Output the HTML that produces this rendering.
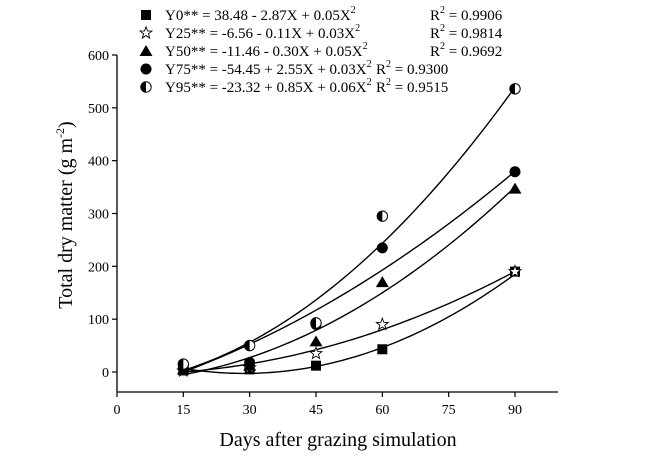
<!DOCTYPE html>
<html><head><meta charset="utf-8"><style>
html,body{margin:0;padding:0;background:#fff;}
svg{display:block;font-family:"Liberation Serif",serif;}
</style></head><body>
<svg id="chart" width="650" height="471" viewBox="0 0 650 471">
<g id="legend"></g>
<g id="axes"></g>
<g id="curves"></g>
<g id="points"></g>
<text x="338" y="446" text-anchor="middle" font-size="20">Days after grazing simulation</text>
<text transform="translate(72,215) rotate(-90)" text-anchor="middle" font-size="20">Total dry matter (g m<tspan font-size="12" dy="-8">-2</tspan><tspan dy="8">)</tspan></text>
</svg>
<script>
const days = [15, 30, 45, 60, 90];
const y0 = [3, 5, 12, 43, 190];
const y25 = [2, 8, 35, 90, 190];
const y50 = [5, 12, 58, 170, 347];
const y75 = [8, 18, 90, 235, 379];
const y95 = [15, 50, 93, 295, 536];
const coefA = [38.48, -4.0, -18.0, -41.0, -23.32];
const coefB = [-2.87, -0.11, 0.22, 2.345, 0.85];
const coefC = [0.05, 0.0252, 0.043, 0.0259, 0.06];
const legendEq = ["Y0**  =  38.48 - 2.87X + 0.05X", "Y25** =   -6.56 - 0.11X + 0.03X", "Y50** = -11.46 - 0.30X + 0.05X", "Y75** = -54.45 + 2.55X + 0.03X", "Y95** = -23.32 + 0.85X + 0.06X"];
const legendR2 = ["0.9906", "0.9814", "0.9692", "0.9300", "0.9515"];
const xTicks = [0, 15, 30, 45, 60, 75, 90];
const yTicks = [0, 100, 200, 300, 400, 500, 600];

const NS = "http://www.w3.org/2000/svg";
const X = v => 117 + v * (398 / 90);
const Y = v => 372 - v * (317 / 600);
function mk(tag, attrs, parent) {
  const e = document.createElementNS(NS, tag);
  for (const k in attrs) e.setAttribute(k, attrs[k]);
  parent.appendChild(e);
  return e;
}
const axes = document.getElementById('axes');
let l = mk('line', {x1:117, y1:Y(600), x2:117, y2:392, stroke:'#000', 'stroke-width':1.3}, axes);


l = mk('line', {x1:117, y1:392, x2:558, y2:392, stroke:'#000', 'stroke-width':1.3}, axes);


yTicks.forEach(t => {
  mk('line', {x1:112, y1:Y(t), x2:117, y2:Y(t), stroke:'#000', 'stroke-width':1.2}, axes);
  const tx = mk('text', {x:109, y:Y(t)+5, 'text-anchor':'end', 'font-size':14}, axes);
  tx.textContent = t;
  
  
});
xTicks.forEach(t => {
  mk('line', {x1:X(t), y1:392, x2:X(t), y2:397, stroke:'#000', 'stroke-width':1.2}, axes);
  const tx = mk('text', {x:X(t), y:414, 'text-anchor':'middle', 'font-size':14}, axes);
  tx.textContent = t;
  
  
});
const curves = document.getElementById('curves');
for (let i = 0; i < 5; i++) {
  let d = '';
  for (let x = 15; x <= 90.001; x += 1) {
    const v = coefA[i] + coefB[i] * x + coefC[i] * x * x;
    d += (d ? 'L' : 'M') + X(x).toFixed(2) + ' ' + Y(v).toFixed(2);
  }
  const p = mk('path', {d:d, fill:'none', stroke:'#000', 'stroke-width':1.4}, curves);
  
  
}
function marker(type, cx, cy, parent) {
  let e;
  if (type === 0) e = mk('rect', {x:cx-5, y:cy-5, width:10, height:10, fill:'#000'}, parent);
  else if (type === 1) {
    let pts = [];
    for (let k = 0; k < 10; k++) {
      const r = k % 2 ? 2.6 : 6.2, a = -Math.PI/2 + k*Math.PI/5;
      pts.push((cx + r*Math.cos(a)).toFixed(2) + ',' + (cy + r*Math.sin(a)).toFixed(2));
    }
    e = mk('polygon', {points:pts.join(' '), fill:'#fff', stroke:'#000', 'stroke-width':0.9}, parent);
  } else if (type === 2) e = mk('polygon', {points:`${cx},${cy-6} ${cx+6.5},${cy+5} ${cx-6.5},${cy+5}`, fill:'#000'}, parent);
  else if (type === 3) e = mk('circle', {cx:cx, cy:cy, r:5.5, fill:'#000'}, parent);
  else {
    e = mk('g', {}, parent);
    mk('circle', {cx:cx, cy:cy, r:5.2, fill:'#fff', stroke:'#000', 'stroke-width':1}, e);
    mk('path', {d:`M${cx} ${cy-5.2} A5.2 5.2 0 0 0 ${cx} ${cy+5.2} Z`, fill:'#000'}, e);
  }
  return e;
}
const series = [y0, y25, y50, y75, y95];
const points = document.getElementById('points');
series.forEach((s, i) => {
  s.forEach((v, j) => {
    const m = marker(i, X(days[j]), Y(v), points);
    
    
  });
});
const legend = document.getElementById('legend');
const rowY = [15, 33, 51, 69, 87];
const r2X = [430, 430, 430, 376, 376];
for (let i = 0; i < 5; i++) {
  const m = marker(i, 146, rowY[i], legend);
  
  
  const t = mk('text', {x:165, y:rowY[i]+5, 'font-size':15, 'xml:space':'preserve'}, legend);
  t.textContent = legendEq[i];
  mk('tspan', {'font-size':10, dy:-7}, t).textContent = '2';
  
  
  const r = mk('text', {x:r2X[i], y:rowY[i]+5, 'font-size':15}, legend);
  r.textContent = 'R';
  mk('tspan', {'font-size':10, dy:-7}, r).textContent = '2';
  mk('tspan', {dy:7}, r).textContent = ' = ' + legendR2[i];
  
  
}
</script>
</body></html>
